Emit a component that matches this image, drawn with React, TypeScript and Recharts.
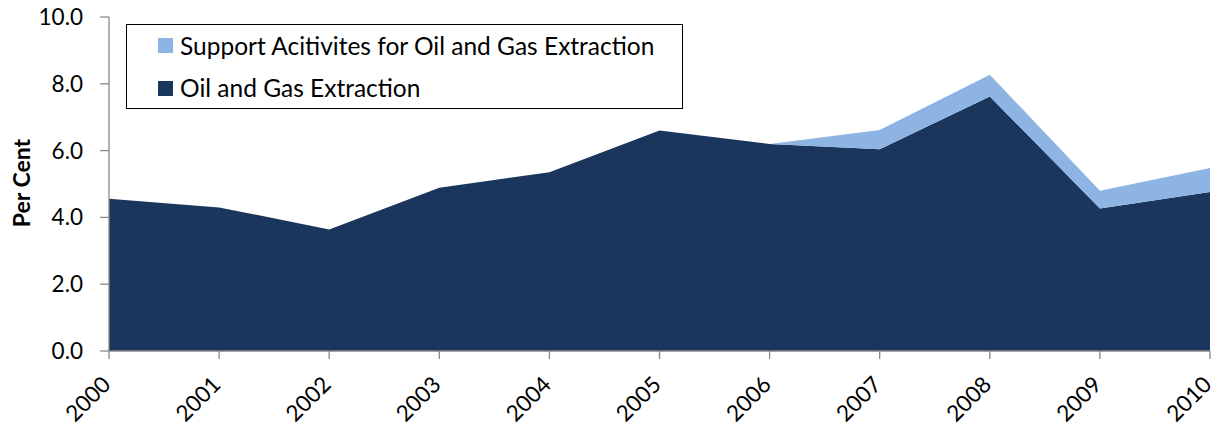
import React from 'react';
import { AreaChart, Area, XAxis, YAxis } from 'recharts';

const years = ['2000', '2001', '2002', '2003', '2004', '2005', '2006', '2007', '2008', '2009', '2010'];
const oilGas = [4.56, 4.3, 3.64, 4.89, 5.35, 6.6, 6.2, 6.04, 7.62, 4.27, 4.76];
const support = [0, 0, 0, 0, 0, 0, 0, 0.58, 0.65, 0.53, 0.72];
const yTicks = [0, 2, 4, 6, 8, 10];

const SUPPORT_NAME = 'Support Acitivites for Oil and Gas Extraction';
const OIL_NAME = 'Oil and Gas Extraction';
const DARK = '#1B365D';
const LIGHT = '#8DB4E2';
const AXIS = '#898989';
const FONT = 'Lato, "Open Sans", sans-serif';

const data = years.map((y, i) => ({ year: y, oil: oilGas[i], support: support[i] }));

const XTick = (props: any) => {
  const { x, y, payload } = props;
  const ax = x + 3;
  const ay = y + 25;
  return (
    <text x={ax} y={ay} transform={`rotate(-45, ${ax}, ${ay})`} textAnchor="end" fontFamily={FONT} fontSize={22.5} fill="#000">
      {payload.value}
    </text>
  );
};

const YLabel = () => (
  <text x={30} y={183} transform="rotate(-90, 30, 183)" textAnchor="middle" fontFamily={FONT} fontWeight="bold" fontSize={23} fill="#000">
    Per Cent
  </text>
);

const LegendBox = () => {
  const items = [
    { name: SUPPORT_NAME, color: LIGHT, top: 20.5 },
    { name: OIL_NAME, color: DARK, top: 63 },
  ];
  return (
    <div style={{ position: 'absolute', left: 126, top: 24, width: 557, height: 85, border: '1.5px solid #000', boxSizing: 'border-box', background: '#fff' }}>
      {items.map((it) => (
        <div key={it.name} style={{ position: 'absolute', left: 31, top: it.top - 14, height: 28, display: 'flex', alignItems: 'center', whiteSpace: 'nowrap' }}>
          <span style={{ display: 'inline-block', width: 15, height: 15, background: it.color, marginRight: 7 }} />
          <span style={{ fontFamily: FONT, fontSize: 24.5, color: '#000', lineHeight: '28px' }}>{it.name}</span>
        </div>
      ))}
    </div>
  );
};

export default function App() {
  return (
    <div style={{ position: 'absolute', left: 0, top: 0, width: 1215, height: 426, background: '#fff' }}>
      <AreaChart width={1215} height={426} data={data} margin={{ top: 17, right: 5, bottom: 0, left: 0 }}>
        <XAxis
          dataKey="year"
          height={75}
          tickSize={8}
          tickMargin={2}
          axisLine={{ stroke: AXIS, strokeWidth: 1.3 }}
          tickLine={{ stroke: AXIS, strokeWidth: 1.3 }}
          tick={<XTick />}
          interval={0}
        />
        <YAxis
          width={109}
          domain={[0, 10]}
          ticks={yTicks}
          tickFormatter={(v: number) => v.toFixed(1)}
          tickSize={9}
          tickMargin={17}
          axisLine={{ stroke: AXIS, strokeWidth: 1.3 }}
          tickLine={{ stroke: AXIS, strokeWidth: 1.3 }}
          tick={{ fontFamily: FONT, fontSize: 22.5, fill: '#000' }}
          label={<YLabel />}
        />
        <Area type="linear" dataKey="oil" name={OIL_NAME} stackId="a" fill={DARK} stroke="none" fillOpacity={1} isAnimationActive={false} />
        <Area type="linear" dataKey="support" name={SUPPORT_NAME} stackId="a" fill={LIGHT} stroke="none" fillOpacity={1} isAnimationActive={false} />
      </AreaChart>
      <LegendBox />
    </div>
  );
}
